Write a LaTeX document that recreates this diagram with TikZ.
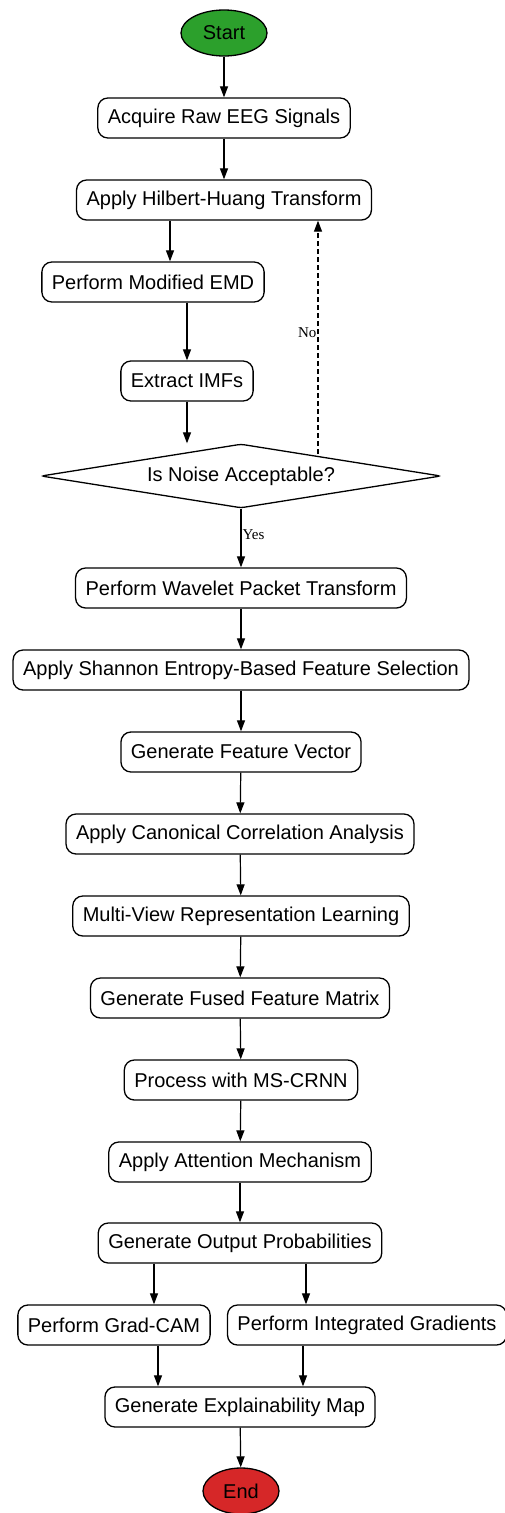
\documentclass[tikz,border=0pt]{standalone}
\usepackage{fontspec}
\setmainfont{Liberation Sans}
\newfontfamily\labelfont{Liberation Serif}
\usetikzlibrary{shapes.geometric,arrows.meta}
\definecolor{startgreen}{HTML}{2CA02C}
\definecolor{endred}{HTML}{D62728}
\tikzset{
  stepbox/.style={draw=black, line width=1.3pt, rounded corners=10pt, fill=white,
    minimum height=40pt, inner xsep=10pt, inner ysep=0pt, font=\fontsize{20}{23}\selectfont},
  terminal/.style={draw=black, line width=1.3pt, ellipse, minimum width=#1, minimum height=46pt,
    inner sep=0pt, font=\fontsize{20}{23}\selectfont},
  decision/.style={draw=black, line width=1.3pt, diamond, aspect=6, minimum width=400pt,
    minimum height=64pt, inner sep=0pt, rounded corners=3pt, font=\fontsize{20}{23}\selectfont},
  arr/.style={draw=black, line width=1.2pt, -{Triangle[length=11pt,width=8pt]}},
  edgelabel/.style={font=\labelfont\fontsize{15}{17}\selectfont}
}
\begin{document}
\begin{tikzpicture}[x=1pt,y=-1pt]
\useasboundingbox[fill=white] (0,0) rectangle (505,1513);
\node[terminal=86pt, fill=startgreen] (start) at (224,33) {Start};
\node[stepbox] (acq) at (224,118) {Acquire Raw EEG Signals};
\node[stepbox] (hht) at (224,200) {Apply Hilbert-Huang Transform};
\node[stepbox] (emd) at (153,282) {Perform Modified EMD};
\node[stepbox] (imf) at (187,381) {Extract IMFs};
\node[decision] (dec) at (241,476) {Is Noise Acceptable?};
\node[stepbox] (wpt) at (241,588) {Perform Wavelet Packet Transform};
\node[stepbox] (shan) at (241,670) {Apply Shannon Entropy-Based Feature Selection};
\node[stepbox] (fvec) at (241,752) {Generate Feature Vector};
\node[stepbox] (cca) at (240,834) {Apply Canonical Correlation Analysis};
\node[stepbox] (mvrl) at (241,916) {Multi-View Representation Learning};
\node[stepbox] (ffm) at (240,998) {Generate Fused Feature Matrix};
\node[stepbox] (crnn) at (241,1080) {Process with MS-CRNN};
\node[stepbox] (att) at (240,1162) {Apply Attention Mechanism};
\node[stepbox] (gop) at (240,1243) {Generate Output Probabilities};
\node[stepbox] (gcam) at (114,1325) {Perform Grad-CAM};
\node[stepbox] (ig) at (367,1325) {Perform Integrated Gradients};
\node[stepbox] (gem) at (240,1407) {Generate Explainability Map};
\node[terminal=76pt, fill=endred] (end) at (241,1491) {End};

\draw[arr] (start) -- (acq);
\draw[arr] (acq) -- (hht);
\draw[arr] ([xshift=-54pt]hht.south) -- ([xshift=17pt]emd.north);
\draw[arr] ([xshift=34pt]emd.south) -- (imf.north);
\draw[arr] (imf.south) -- (imf.south |- dec.north);
\coordinate (nob) at (318,454);
\draw[arr, dash pattern=on 5pt off 3pt] (nob) -- (nob |- hht.south) node[pos=0.52, left, edgelabel, inner sep=1pt] {No};
\draw[arr] (dec.south) -- (wpt.north) node[pos=0.45, right, edgelabel, inner sep=1pt] {Yes};
\draw[arr] (wpt) -- (shan);
\draw[arr] (shan) -- (fvec);
\draw[arr] (fvec) -- (cca);
\draw[arr] (cca) -- (mvrl);
\draw[arr] (mvrl) -- (ffm);
\draw[arr] (ffm) -- (crnn);
\draw[arr] (crnn) -- (att);
\draw[arr] (att) -- (gop);
\draw[arr] ([xshift=-86pt]gop.south) -- ([xshift=40pt]gcam.north);
\draw[arr] ([xshift=66pt]gop.south) -- ([xshift=-61pt]ig.north);
\draw[arr] ([xshift=44pt]gcam.south) -- ([xshift=-82pt]gem.north);
\draw[arr] ([xshift=-64pt]ig.south) -- ([xshift=63pt]gem.north);
\draw[arr] (gem) -- (end);
\end{tikzpicture}
\end{document}
